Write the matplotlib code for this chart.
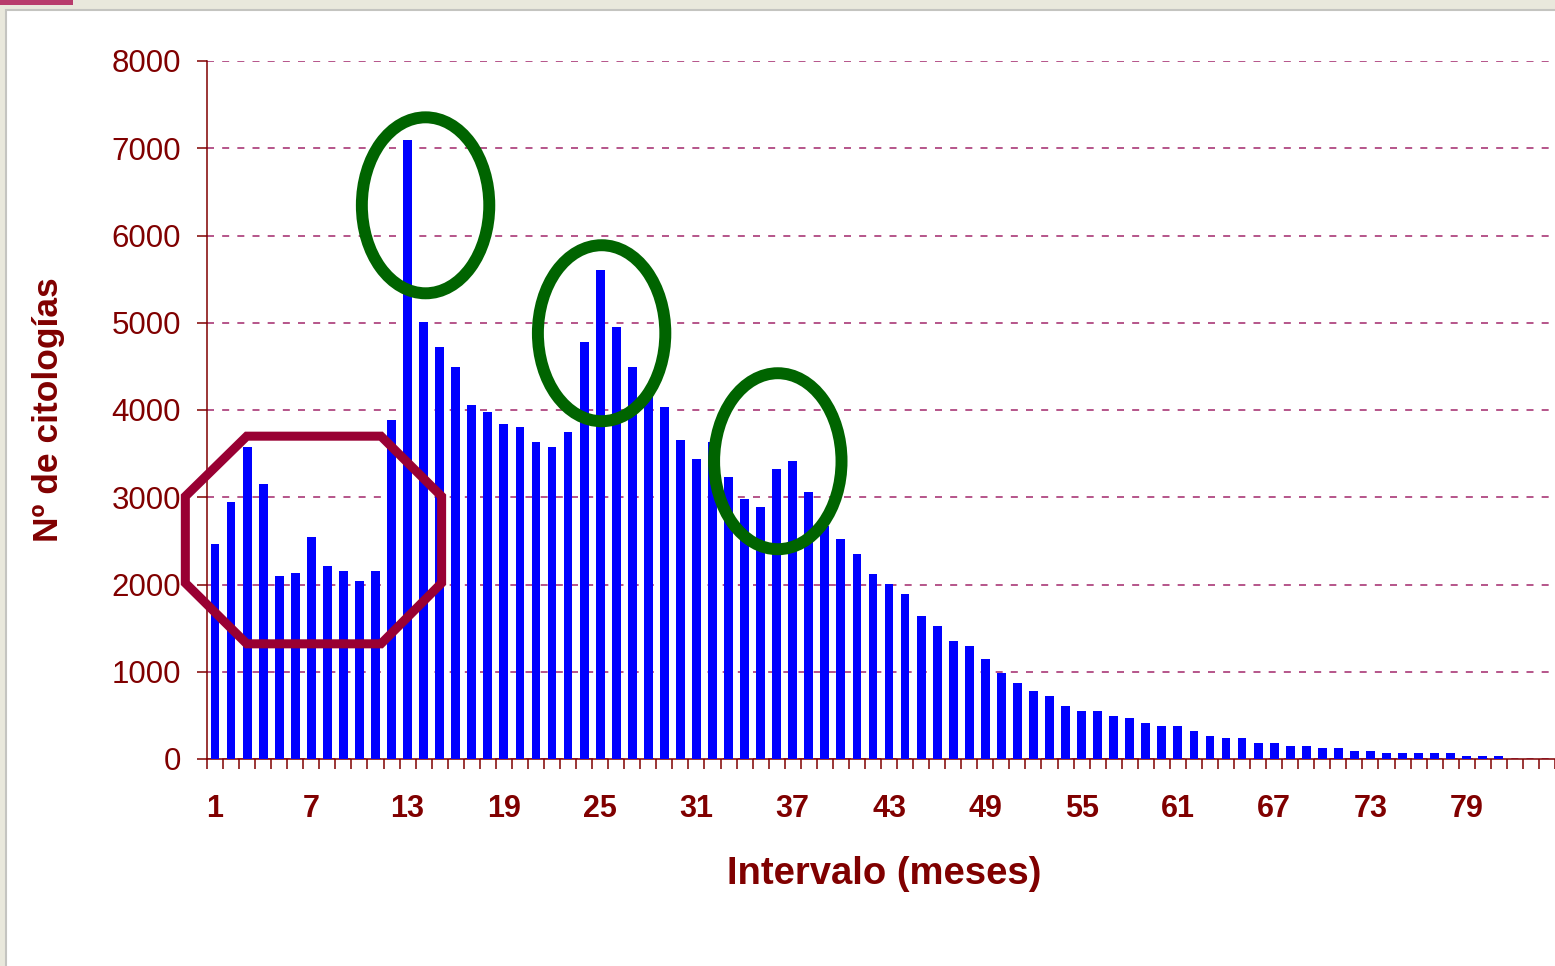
import numpy as np
import matplotlib
matplotlib.use("Agg")
import matplotlib.pyplot as plt
from matplotlib.patches import Ellipse, Polygon, Rectangle

plt.rcParams['font.family'] = ['Liberation Sans', 'DejaVu Sans']

# interval in months (1..84) and number of smears per interval
meses = np.arange(1, 85)
citologias = [
    2460, 2950, 3580, 3150, 2100, 2130, 2550, 2210, 2150, 2040,
    2150, 3890, 7090, 5010, 4720, 4490, 4060, 3980, 3840, 3800,
    3630, 3580, 3750, 4780, 5610, 4950, 4490, 4200, 4030, 3660,
    3435, 3630, 3230, 2975, 2890, 3320, 3410, 3065, 2670, 2520,
    2350, 2125, 2010, 1890, 1635, 1520, 1350, 1295, 1150, 980,
    866, 780, 725, 611, 552, 552, 496, 469, 408, 378,
    378, 324, 267, 237, 237, 183, 183, 153, 153, 126,
    126, 96, 96, 69, 69, 69, 69, 69, 38, 38,
    38, 0, 0, 0,
]
etiquetas_x = list(range(1, 85, 6))
etiquetas_y = list(range(0, 8001, 1000))

# highlighted zones (data coords: month, count)
octogono = [(-0.85, 3010), (2.98, 3700), (11.34, 3700), (15.12, 3010),
            (15.12, 2017), (11.34, 1320), (2.98, 1320), (-0.85, 2017)]
elipses = [(14.12, 6346), (25.09, 4880), (36.07, 3413)]
elipse_w, elipse_h = 7.94, 2017

granate = '#800000'

fig = plt.figure(figsize=(15.55, 9.66), dpi=100, facecolor='#e9e8dc')
# slide-like white panel and the little tab top-left
fig.patches.append(Rectangle((6 / 1555, -0.01), 1, 1.01 - 10 / 966, transform=fig.transFigure,
                             facecolor='white', edgecolor='#c4c4c0', lw=1.5, zorder=-2))
fig.patches.append(Rectangle((0, 1 - 5 / 966), 73 / 1555, 5 / 966, transform=fig.transFigure,
                             facecolor='#b83c6c', edgecolor='none', zorder=-1))

ax = fig.add_axes([207 / 1555, 1 - 759 / 966, 1 - 207 / 1555, 698 / 966])
ax.set_facecolor('none')

ax.bar(meses, citologias, width=0.55, color='#0000ff', zorder=3)

ax.set_xlim(0.5, 84.5)
ax.set_ylim(0, 8000)

ax.set_yticks(etiquetas_y)
ax.set_yticklabels([str(v) for v in etiquetas_y], fontsize=22.5, color=granate)
ax.set_xticks(etiquetas_x)
ax.set_xticklabels([str(v) for v in etiquetas_x], fontsize=22, fontweight='bold', color=granate)
ax.set_xticks(np.arange(0.5, 85, 1), minor=True)
ax.tick_params(axis='x', which='major', length=0, pad=25)
ax.tick_params(axis='x', which='minor', length=7.2, width=1.1, color=granate, direction='out')
ax.tick_params(axis='y', which='major', length=7.2, width=1.1, color=granate, pad=11.5)

for s in ['top', 'right']:
    ax.spines[s].set_visible(False)
for s in ['left', 'bottom']:
    ax.spines[s].set_color(granate)
    ax.spines[s].set_linewidth(1.1)

ax.yaxis.grid(True, color='#b5558a', lw=1.4, linestyle=(0, (3.6, 4.2)), zorder=1)
ax.set_axisbelow(True)

ax.set_xlabel('Intervalo (meses)', fontsize=27.5, fontweight='bold', color=granate)
ax.xaxis.set_label_coords(0.502, -0.139)
ax.xaxis.label.set_va('top')
ax.set_ylabel('Nº de citologías', fontsize=25.5, fontweight='bold', color=granate)
ax.yaxis.set_label_coords(-0.105, 0.5)

ax.add_patch(Polygon(octogono, closed=True, fill=False, edgecolor='#990033',
                     lw=6.5, joinstyle='miter', clip_on=False, zorder=5))
for cx, cy in elipses:
    ax.add_patch(Ellipse((cx, cy), elipse_w, elipse_h, fill=False, edgecolor='#006400',
                         lw=8.6, clip_on=False, zorder=5))

fig.savefig('out.png', dpi=100, facecolor=fig.get_facecolor())
